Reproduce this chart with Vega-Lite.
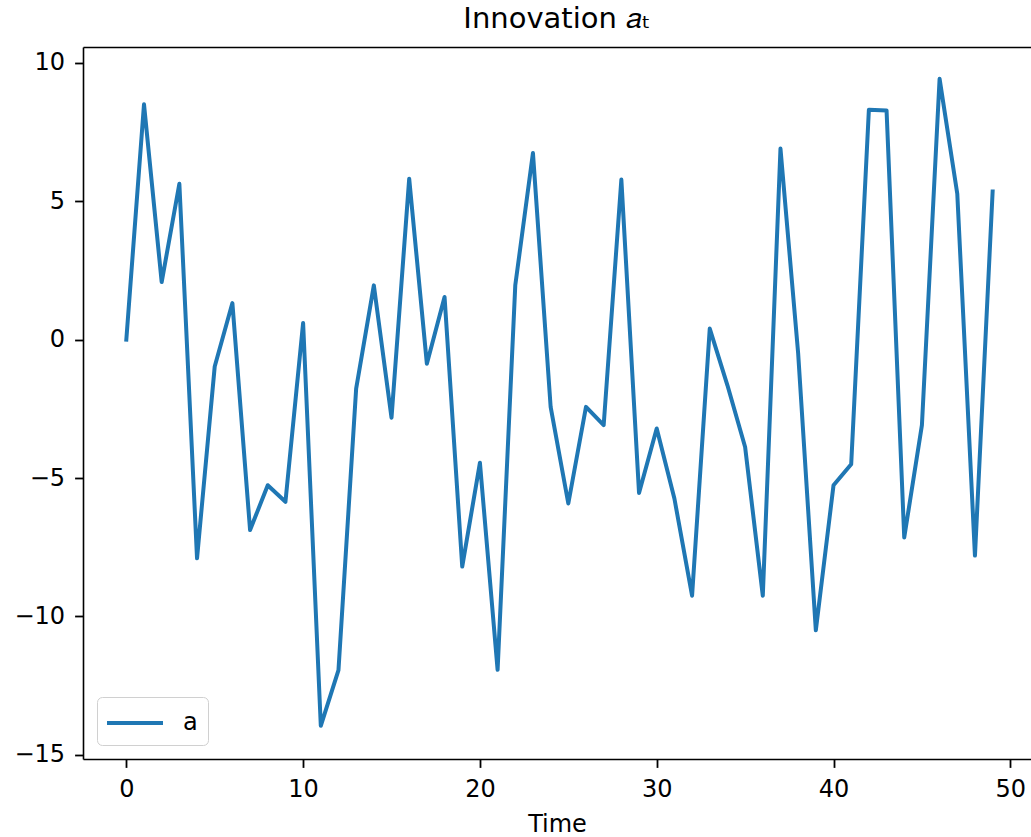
{
  "$schema": "https://vega.github.io/schema/vega-lite/v6.json",
  "autosize": {"type": "none"},
  "padding": {"left": 83, "top": 47, "right": 0, "bottom": 78},
  "width": 948,
  "height": 712,
  "background": "white",
  "title": {
    "text": "Innovation 𝑎ₜ",
    "font": "DejaVu Sans",
    "fontSize": 29,
    "fontWeight": "normal",
    "color": "#000000",
    "anchor": "middle",
    "baseline": "alphabetic",
    "offset": -10
  },
  "data": {
    "values": [
      {"t": 0, "a": 0, "series": "a"},
      {"t": 1, "a": 8.5, "series": "a"},
      {"t": 2, "a": 2.08, "series": "a"},
      {"t": 3, "a": 5.63, "series": "a"},
      {"t": 4, "a": -7.9, "series": "a"},
      {"t": 5, "a": -0.97, "series": "a"},
      {"t": 6, "a": 1.32, "series": "a"},
      {"t": 7, "a": -6.88, "series": "a"},
      {"t": 8, "a": -5.26, "series": "a"},
      {"t": 9, "a": -5.86, "series": "a"},
      {"t": 10, "a": 0.6, "series": "a"},
      {"t": 11, "a": -13.95, "series": "a"},
      {"t": 12, "a": -11.94, "series": "a"},
      {"t": 13, "a": -1.77, "series": "a"},
      {"t": 14, "a": 1.96, "series": "a"},
      {"t": 15, "a": -2.82, "series": "a"},
      {"t": 16, "a": 5.81, "series": "a"},
      {"t": 17, "a": -0.87, "series": "a"},
      {"t": 18, "a": 1.54, "series": "a"},
      {"t": 19, "a": -8.2, "series": "a"},
      {"t": 20, "a": -4.45, "series": "a"},
      {"t": 21, "a": -11.93, "series": "a"},
      {"t": 22, "a": 1.96, "series": "a"},
      {"t": 23, "a": 6.74, "series": "a"},
      {"t": 24, "a": -2.43, "series": "a"},
      {"t": 25, "a": -5.92, "series": "a"},
      {"t": 26, "a": -2.43, "series": "a"},
      {"t": 27, "a": -3.09, "series": "a"},
      {"t": 28, "a": 5.78, "series": "a"},
      {"t": 29, "a": -5.54, "series": "a"},
      {"t": 30, "a": -3.21, "series": "a"},
      {"t": 31, "a": -5.74, "series": "a"},
      {"t": 32, "a": -9.25, "series": "a"},
      {"t": 33, "a": 0.4, "series": "a"},
      {"t": 34, "a": -1.65, "series": "a"},
      {"t": 35, "a": -3.88, "series": "a"},
      {"t": 36, "a": -9.25, "series": "a"},
      {"t": 37, "a": 6.9, "series": "a"},
      {"t": 38, "a": -0.5, "series": "a"},
      {"t": 39, "a": -10.5, "series": "a"},
      {"t": 40, "a": -5.26, "series": "a"},
      {"t": 41, "a": -4.5, "series": "a"},
      {"t": 42, "a": 8.3, "series": "a"},
      {"t": 43, "a": 8.28, "series": "a"},
      {"t": 44, "a": -7.15, "series": "a"},
      {"t": 45, "a": -3.09, "series": "a"},
      {"t": 46, "a": 9.42, "series": "a"},
      {"t": 47, "a": 5.27, "series": "a"},
      {"t": 48, "a": -7.8, "series": "a"},
      {"t": 49, "a": 5.35, "series": "a"}
    ]
  },
  "layer": [
    {
      "mark": {"type": "line", "strokeWidth": 4, "strokeJoin": "round", "strokeCap": "square", "clip": true},
      "encoding": {
        "x": {
          "field": "t", "type": "quantitative",
          "scale": {"domain": [-2.45, 51.17], "nice": false, "zero": false},
          "axis": {"orient": "bottom", "values": [0, 10, 20, 30, 40, 50], "format": "d", "title": "Time", "titlePadding": 11}
        },
        "y": {
          "field": "a", "type": "quantitative",
          "scale": {"domain": [-15.15, 10.57], "nice": false, "zero": false},
          "axis": {"values": [-15, -10, -5, 0, 5, 10], "format": "d", "title": null}
        },
        "color": {
          "field": "series", "type": "nominal",
          "scale": {"range": ["#1f77b4"]},
          "legend": {
            "title": null,
            "orient": "bottom-left",
            "offset": 14,
            "strokeColor": "#d0d0d0",
            "fillColor": "rgba(255,255,255,0.8)",
            "cornerRadius": 5,
            "padding": 10,
            "symbolType": "M-2,0H2",
            "symbolSize": 784,
            "symbolStrokeWidth": 4,
            "symbolOffset": 12,
            "labelFont": "DejaVu Sans",
            "labelFontSize": 24,
            "labelColor": "#000000",
            "labelOffset": 32
          }
        }
      }
    },
    {
      "mark": {"type": "line", "strokeOpacity": 0},
      "encoding": {
        "x": {
          "field": "t", "type": "quantitative",
          "axis": {"orient": "top", "labels": false, "ticks": false, "domain": true, "title": null}
        },
        "y": {"field": "a", "type": "quantitative"}
      }
    }
  ],
  "resolve": {"axis": {"x": "independent"}},
  "config": {
    "view": {"stroke": null},
    "axis": {
      "grid": false,
      "domain": true,
      "domainColor": "#000000",
      "domainWidth": 1.6,
      "tickColor": "#000000",
      "tickWidth": 1.8,
      "tickSize": 8.4,
      "labelFont": "DejaVu Sans",
      "labelFontSize": 24,
      "labelColor": "#000000",
      "labelPadding": 10,
      "titleFont": "DejaVu Sans",
      "titleFontSize": 24,
      "titleFontWeight": "normal",
      "titleColor": "#000000"
    }
  }
}
